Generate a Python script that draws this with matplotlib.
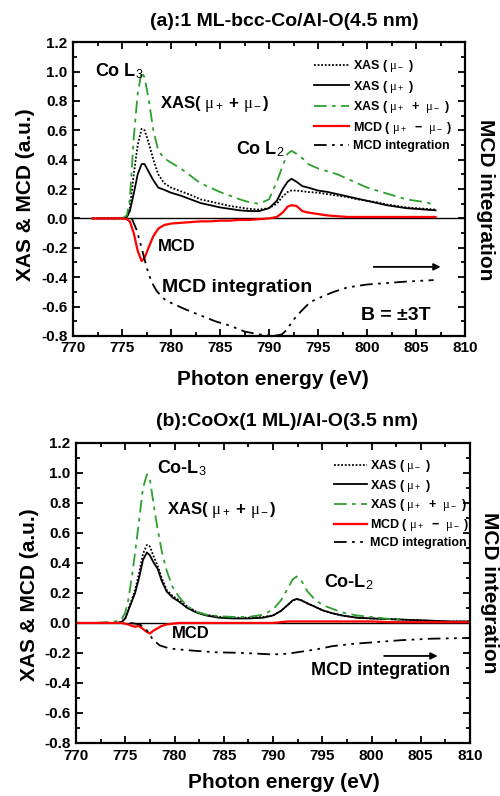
import numpy as np
import matplotlib
matplotlib.use("Agg")
import matplotlib.pyplot as plt
from matplotlib.ticker import MultipleLocator

plt.rcParams['font.family'] = ['Liberation Sans', 'DejaVu Sans']
plt.rcParams['font.weight'] = 'bold'
# thin upright mu like the original figure
plt.rcParams['mathtext.fontset'] = 'custom'
plt.rcParams['mathtext.it'] = 'Liberation Serif:roman:normal'
plt.rcParams['mathtext.rm'] = 'Liberation Sans:roman:normal'

# ---- panel (a): 1 ML-bcc-Co/Al-O(4.5 nm) ----
e_a = [772, 774, 775, 775.5, 775.8, 776.2, 776.6, 777.0, 777.3, 777.7, 778.2, 778.7,
       779.3, 780, 781, 782, 783, 784, 785, 786, 787, 788, 789, 790, 790.8, 791.4,
       791.9, 792.3, 792.8, 793.4, 794, 795, 796, 797, 798, 799, 800, 801, 802, 803,
       804, 805, 806, 807]
xas_minus_a = [0.0, 0.0, 0.0, 0.01, 0.07, 0.30, 0.50, 0.61, 0.60, 0.52, 0.40, 0.30,
               0.24, 0.21, 0.185, 0.16, 0.13, 0.115, 0.10, 0.085, 0.075, 0.065, 0.06, 0.07,
               0.10, 0.15, 0.18, 0.19, 0.19, 0.185, 0.18, 0.175, 0.165, 0.155, 0.145, 0.13,
               0.12, 0.11, 0.095, 0.085, 0.075, 0.07, 0.065, 0.06]
xas_plus_a = [0.0, 0.0, 0.0, 0.01, 0.05, 0.17, 0.30, 0.37, 0.37, 0.32, 0.26, 0.21,
              0.195, 0.175, 0.155, 0.13, 0.105, 0.09, 0.075, 0.065, 0.055, 0.05, 0.05, 0.07,
              0.12, 0.20, 0.25, 0.27, 0.25, 0.22, 0.21, 0.19, 0.18, 0.165, 0.15, 0.135,
              0.12, 0.105, 0.09, 0.08, 0.07, 0.065, 0.06, 0.055]
mcd_a = [0.0, 0.0, 0.0, -0.005, -0.02, -0.10, -0.22, -0.29, -0.27, -0.20, -0.12, -0.07,
         -0.045, -0.035, -0.03, -0.025, -0.02, -0.02, -0.015, -0.015, -0.01, -0.01, -0.005, 0.0,
         0.01, 0.04, 0.08, 0.09, 0.085, 0.05, 0.04, 0.03, 0.02, 0.015, 0.01, 0.01,
         0.01, 0.01, 0.01, 0.01, 0.01, 0.01, 0.01, 0.01]
e_sum_a = [775, 775.5, 775.8, 776.2, 776.6, 777.0, 777.3, 777.7, 778.2, 778.7, 779.3, 780,
           781, 782, 783, 784, 785, 786, 787, 788, 789, 790, 790.8, 791.4, 791.9, 792.3,
           792.8, 793.4, 794, 795, 796, 797, 798, 799, 800, 801, 802, 803, 804, 805, 806, 806.5]
xas_sum_a = [0.0, 0.02, 0.13, 0.55, 0.85, 1.0, 0.96, 0.82, 0.60, 0.46, 0.41, 0.38,
             0.34, 0.29, 0.24, 0.21, 0.18, 0.155, 0.13, 0.11, 0.10, 0.13, 0.25, 0.36, 0.44, 0.46,
             0.44, 0.41, 0.37, 0.34, 0.32, 0.30, 0.27, 0.24, 0.21, 0.19, 0.17, 0.15, 0.13, 0.12, 0.11, 0.10]
e_int_a = [776, 776.5, 777, 777.5, 778, 778.5, 779, 779.5, 780.5, 781.5, 783, 784.5, 786,
           787.5, 789, 790.5, 791.3, 791.8, 792.5, 793.3, 794.2, 795.5, 796.6, 798, 800,
           802, 804, 806.8]
mcd_int_a = [0.0, -0.08, -0.2, -0.33, -0.43, -0.49, -0.53, -0.56, -0.59, -0.62, -0.66, -0.70,
             -0.73, -0.77, -0.79, -0.80, -0.79, -0.76, -0.69, -0.63, -0.57, -0.53, -0.50,
             -0.47, -0.45, -0.44, -0.43, -0.42]

# ---- panel (b): CoOx(1 ML)/Al-O(3.5 nm) ----
e_b = [770, 772, 774, 774.6, 775.0, 775.3, 775.7, 776.0, 776.4, 776.8, 777.2, 777.5, 777.9,
       778.3, 778.7, 779.2, 779.8, 780.5, 781.3, 782.2, 783.2, 784.5, 786, 787.5, 789, 790,
       790.8, 791.5, 792, 792.4, 792.9, 793.5, 794.2, 795, 796, 797, 798.5, 800, 802, 804,
       806, 808, 810]
xas_plus_b = [0.0, 0.0, 0.0, 0.005, 0.03, 0.08, 0.15, 0.20, 0.30, 0.42, 0.47, 0.45, 0.40,
              0.36, 0.28, 0.21, 0.17, 0.14, 0.10, 0.07, 0.05, 0.035, 0.03, 0.03, 0.035, 0.05,
              0.08, 0.12, 0.15, 0.16, 0.15, 0.13, 0.11, 0.085, 0.065, 0.05, 0.035, 0.03, 0.025, 0.02,
              0.015, 0.01, 0.01]
xas_minus_b = [0.0, 0.0, 0.0, 0.005, 0.03, 0.09, 0.16, 0.22, 0.33, 0.46, 0.52, 0.51, 0.44,
               0.38, 0.30, 0.22, 0.18, 0.15, 0.11, 0.075, 0.055, 0.04, 0.035, 0.035, 0.04, 0.05,
               0.08, 0.12, 0.15, 0.16, 0.15, 0.13, 0.11, 0.085, 0.065, 0.05, 0.035, 0.03, 0.025, 0.02,
               0.015, 0.01, 0.01]
mcd_b = [0.0, 0.0, 0.0, 0.0, -0.005, -0.01, -0.02, -0.025, -0.02, -0.04, -0.06, -0.07, -0.05,
         -0.035, -0.02, -0.01, -0.005, 0.0, 0.0, 0.0, 0.0, 0.0, 0.0, 0.0, 0.0, 0.0,
         0.005, 0.01, 0.01, 0.01, 0.01, 0.01, 0.01, 0.01, 0.01, 0.01, 0.01, 0.01, 0.005, 0.005,
         0.005, 0.005, 0.005]
e_sum_b = [772, 774, 774.6, 775.0, 775.3, 775.7, 776.0, 776.4, 776.8, 777.2, 777.5, 777.9,
           778.3, 778.7, 779.2, 779.8, 780.5, 781.3, 782.2, 783.2, 784.5, 786, 787.5, 789, 790,
           790.8, 791.5, 792, 792.4, 792.9, 793.5, 794.2, 795, 796, 797, 798.5, 800, 802, 803]
xas_sum_b = [0.0, 0.01, 0.02, 0.07, 0.15, 0.32, 0.47, 0.68, 0.90, 0.99, 0.96, 0.78,
             0.62, 0.48, 0.35, 0.24, 0.17, 0.11, 0.075, 0.055, 0.045, 0.04, 0.04, 0.055, 0.09,
             0.15, 0.23, 0.29, 0.31, 0.28, 0.21, 0.16, 0.12, 0.095, 0.07, 0.05, 0.04, 0.025, 0.02]
e_int_b = [775.5, 776.5, 777.2, 777.8, 778.5, 779.5, 781, 784, 787, 790, 791.5, 793, 794.5,
           796, 798, 800, 803, 806, 810]
mcd_int_b = [0.0, -0.01, -0.05, -0.11, -0.15, -0.17, -0.18, -0.195, -0.20, -0.21, -0.205,
             -0.19, -0.175, -0.155, -0.14, -0.13, -0.115, -0.105, -0.10]

GREEN = '#2ca02c'
DASHDOT = (0, (7, 3, 2, 3))
DASHDOTDOT = (0, (7, 3, 1.5, 3, 1.5, 3))

lab_minus = r'XAS ( $\mu_-$ )'
lab_plus = r'XAS ( $\mu_+$ )'
lab_sum = r'XAS ( $\mu_+$  +  $\mu_-$ )'
lab_mcd = r'MCD ( $\mu_+$  −  $\mu_-$ )'
lab_int = 'MCD integration'

fig = plt.figure(figsize=(5, 7.96), dpi=100)
ax_a = fig.add_axes([0.146, 0.578, 0.784, 0.369])
ax_b = fig.add_axes([0.152, 0.0666, 0.788, 0.377])


def style_axes(ax):
    ax.set_xlim(770, 810)
    ax.set_ylim(-0.8, 1.2)
    ax.xaxis.set_major_locator(MultipleLocator(5))
    ax.xaxis.set_minor_locator(MultipleLocator(2.5))
    ax.yaxis.set_major_locator(MultipleLocator(0.2))
    ax.yaxis.set_minor_locator(MultipleLocator(0.1))
    ax.yaxis.set_major_formatter(matplotlib.ticker.FormatStrFormatter('%.1f'))
    ax.tick_params(which='both', direction='in', top=True, right=True, width=1.3)
    ax.tick_params(which='major', length=5, labelsize=11, pad=4)
    ax.tick_params(which='minor', length=3)
    for s in ax.spines.values():
        s.set_linewidth(1.6)
    for lbl in ax.get_xticklabels() + ax.get_yticklabels():
        lbl.set_fontweight('bold')
    ax.axhline(0, color='black', lw=1.0, zorder=1)


def draw_panel(ax, e, minus, plus, mcd, e_sum, xsum, e_int, xint):
    ax.plot(e, minus, color='black', lw=1.3, linestyle=(0, (1, 1)), label=lab_minus)
    ax.plot(e, plus, color='black', lw=1.3, label=lab_plus)
    ax.plot(e_sum, xsum, color=GREEN, lw=1.3, linestyle=DASHDOT, label=lab_sum)
    ax.plot(e, mcd, color='red', lw=1.6, label=lab_mcd)
    ax.plot(e_int, xint, color='black', lw=1.3, linestyle=DASHDOTDOT, label=lab_int)


# panel (a)
style_axes(ax_a)
draw_panel(ax_a, e_a, xas_minus_a, xas_plus_a, mcd_a, e_sum_a, xas_sum_a, e_int_a, mcd_int_a)
ax_a.legend(loc='upper left', bbox_to_anchor=(0.615, 0.945), frameon=False, fontsize=9,
            handlelength=2.8, handletextpad=0.3, labelspacing=0.36, borderpad=0,
            borderaxespad=0)
ax_a.text(772.2, 1.0, r'Co L$_3$', fontsize=13, fontweight='bold', va='center')
ax_a.text(778.9, 0.78, r'XAS( $\mu_+$ + $\mu_-$)', fontsize=12, fontweight='bold', va='center')
ax_a.text(786.6, 0.47, r'Co L$_2$', fontsize=13, fontweight='bold', va='center')
ax_a.text(778.7, -0.19, 'MCD', fontsize=12, fontweight='bold', va='center')
ax_a.text(779.1, -0.47, 'MCD integration', fontsize=14, fontweight='bold', va='center')
ax_a.text(799.4, -0.66, 'B = ±3T', fontsize=14, fontweight='bold', va='center')
ax_a.annotate('', xy=(807.8, -0.33), xytext=(800.4, -0.33),
              arrowprops=dict(arrowstyle='-|>', color='black', lw=1.3, mutation_scale=10))

# panel (b)
style_axes(ax_b)
draw_panel(ax_b, e_b, xas_minus_b, xas_plus_b, mcd_b, e_sum_b, xas_sum_b, e_int_b, mcd_int_b)
ax_b.legend(loc='upper left', bbox_to_anchor=(0.655, 0.95), frameon=False, fontsize=9,
            handlelength=2.6, handletextpad=0.3, labelspacing=0.3, borderpad=0,
            borderaxespad=0)
ax_b.text(778.2, 1.03, r'Co-L$_3$', fontsize=13, fontweight='bold', va='center')
ax_b.text(779.2, 0.75, r'XAS( $\mu_+$ + $\mu_-$)', fontsize=12, fontweight='bold', va='center')
ax_b.text(795.2, 0.27, r'Co-L$_2$', fontsize=13, fontweight='bold', va='center')
ax_b.text(779.7, -0.07, 'MCD', fontsize=12, fontweight='bold', va='center')
ax_b.text(793.9, -0.32, 'MCD integration', fontsize=13, fontweight='bold', va='center')
ax_b.annotate('', xy=(807.0, -0.22), xytext=(801.0, -0.22),
              arrowprops=dict(arrowstyle='-|>', color='black', lw=1.3, mutation_scale=10))

# titles and axis labels placed in figure pixels
W, H = 500, 796
def ftext(x, y, s, **kw):
    fig.text(x / W, 1 - y / H, s, fontweight='bold', ha='center', va='center', **kw)

ftext(284, 22, '(a):1 ML-bcc-Co/Al-O(4.5 nm)', fontsize=14)
ftext(273, 380, 'Photon energy (eV)', fontsize=15)
ftext(26, 195, 'XAS & MCD (a.u.)', fontsize=15, rotation=90)
ftext(486, 200, 'MCD integration', fontsize=15, rotation=270)

ftext(287, 422, '(b):CoOx(1 ML)/Al-O(3.5 nm)', fontsize=14)
ftext(284, 783, 'Photon energy (eV)', fontsize=15)
ftext(30, 595, 'XAS & MCD (a.u.)', fontsize=15, rotation=90)
ftext(490, 593, 'MCD integration', fontsize=15, rotation=270)

fig.savefig('out.png', dpi=100)
